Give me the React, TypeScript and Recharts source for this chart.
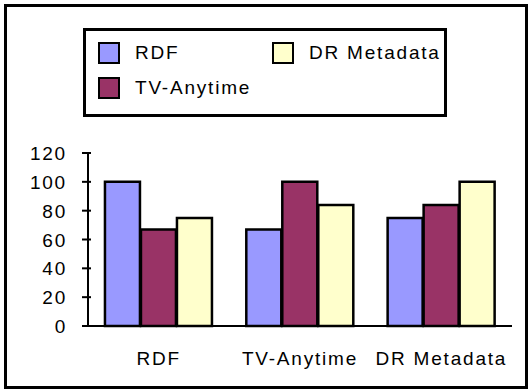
import React from 'react';
import { BarChart, Bar, XAxis, YAxis, Legend } from 'recharts';

const categories = ['RDF', 'TV-Anytime', 'DR Metadata'];
const rdfValues = [100, 67, 75];
const tvAnytimeValues = [67, 100, 84];
const drMetadataValues = [75, 84, 100];
const yTicks = [0, 20, 40, 60, 80, 100, 120];

const series = [
  { key: 'RDF', values: rdfValues, color: '#9999FF' },
  { key: 'TV-Anytime', values: tvAnytimeValues, color: '#993366' },
  { key: 'DR Metadata', values: drMetadataValues, color: '#FFFFCC' },
];

const data = categories.map((name, i) => {
  const row: Record<string, string | number> = { name };
  series.forEach((s) => {
    row[s.key] = s.values[i];
  });
  return row;
});

const FONT = '"Liberation Sans", Arial, sans-serif';
const FONT_SIZE = 19;
const SPACING = 1.8;

const YTick = (props: any) => {
  const { x, y, payload } = props;
  return (
    <g>
      <line x1={x + 2} x2={x + 11} y1={y} y2={y} stroke="#000" strokeWidth={2} />
      <text
        x={x - 13}
        y={y}
        dy={7}
        textAnchor="end"
        fontFamily={FONT}
        fontSize={FONT_SIZE}
        letterSpacing={SPACING}
        fill="#000"
      >
        {payload.value}
      </text>
    </g>
  );
};

const XTick = (props: any) => {
  const { x, y, payload } = props;
  return (
    <text
      x={x}
      y={y + 31}
      textAnchor="middle"
      fontFamily={FONT}
      fontSize={FONT_SIZE}
      letterSpacing={SPACING}
      fill="#000"
    >
      {payload.value}
    </text>
  );
};

const legendSpots = [
  { left: 15, top: 14 },
  { left: 15, top: 49 },
  { left: 189, top: 14 },
];

const LegendBox = () => (
  <div
    style={{
      position: 'relative',
      width: 364,
      height: 89,
      border: '3px solid #000',
      boxSizing: 'border-box',
      background: '#fff',
      fontFamily: FONT,
      fontSize: FONT_SIZE,
      letterSpacing: SPACING,
    }}
  >
    {series.map((s, i) => (
      <div
        key={s.key}
        style={{
          position: 'absolute',
          left: legendSpots[i].left - 3,
          top: legendSpots[i].top - 3,
          display: 'flex',
          alignItems: 'center',
          height: 22,
        }}
      >
        <span
          style={{
            width: 22,
            height: 22,
            background: s.color,
            border: '2px solid #000',
            boxSizing: 'border-box',
            display: 'inline-block',
            marginRight: 15,
          }}
        />
        <span style={{ lineHeight: '22px' }}>{s.key}</span>
      </div>
    ))}
  </div>
);

export default function App() {
  return (
    <div style={{ position: 'absolute', left: 0, top: 0, width: 531, height: 391, background: '#fff' }}>
      <div
        style={{
          position: 'absolute',
          left: 4,
          top: 4,
          width: 524,
          height: 385,
          border: '3px solid #000',
          boxSizing: 'border-box',
        }}
      />
      <div style={{ position: 'absolute', left: 0, top: 0 }}>
        <BarChart
          width={531}
          height={391}
          data={data}
          margin={{ top: 153, right: 19, bottom: 0, left: 0 }}
          barCategoryGap="12%"
          barGap={1}
        >
          <XAxis
            dataKey="name"
            axisLine={{ stroke: '#000', strokeWidth: 2 }}
            tickLine={false}
            tick={<XTick />}
            height={65}
          />
          <YAxis
            width={88}
            domain={[0, 120]}
            ticks={yTicks}
            interval={0}
            axisLine={{ stroke: '#000', strokeWidth: 2 }}
            tickLine={false}
            tick={<YTick />}
          />
          <Legend
            layout="vertical"
            align="center"
            verticalAlign="middle"
            wrapperStyle={{ left: 83, top: 28, width: 364, height: 89 }}
            content={() => <LegendBox />}
          />
          {series.map((s) => (
            <Bar
              key={s.key}
              dataKey={s.key}
              fill={s.color}
              stroke="#000"
              strokeWidth={2.5}
              isAnimationActive={false}
            />
          ))}
        </BarChart>
      </div>
    </div>
  );
}
